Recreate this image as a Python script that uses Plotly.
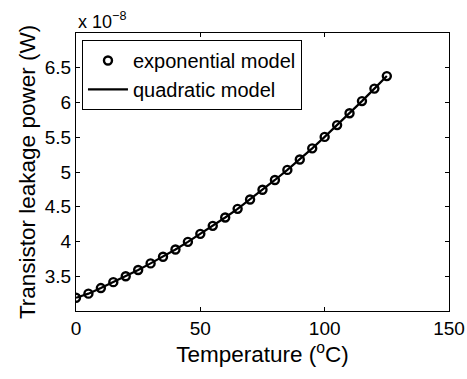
import plotly.graph_objects as go

temperature = [0, 5, 10, 15, 20, 25, 30, 35, 40, 45, 50, 55, 60, 65, 70, 75, 80, 85, 90, 95, 100, 105, 110, 115, 120, 125]
exp_power = [3.19, 3.25, 3.33, 3.415, 3.50, 3.59, 3.685, 3.78, 3.885, 3.995, 4.11, 4.225, 4.345, 4.47,
             4.605, 4.745, 4.885, 5.03, 5.18, 5.34, 5.505, 5.675, 5.845, 6.02, 6.2, 6.38]
quad_power = [3.19, 3.25, 3.33, 3.415, 3.50, 3.59, 3.685, 3.78, 3.885, 3.995, 4.11, 4.225, 4.345, 4.47,
              4.605, 4.745, 4.885, 5.03, 5.18, 5.34, 5.505, 5.675, 5.845, 6.02, 6.2, 6.38]
x_ticks = [0, 50, 100, 150]
y_ticks = [3.5, 4, 4.5, 5, 5.5, 6, 6.5]

FONT = "Liberation Sans, Arial, Helvetica, sans-serif"

fig = go.Figure()
fig.add_trace(go.Scatter(
    x=temperature, y=exp_power, mode="markers", name="exponential model",
    marker=dict(symbol="circle-open", size=8, color="black", line=dict(width=2.4, color="black")),
))
fig.add_trace(go.Scatter(
    x=temperature, y=quad_power, mode="lines", name="quadratic model",
    line=dict(color="black", width=2.2),
))

axis_common = dict(
    showline=True, linecolor="black", linewidth=1, mirror="ticks",
    ticks="inside", ticklen=4, tickcolor="black", tickwidth=1,
    showgrid=False, zeroline=False, automargin=False,
    tickfont=dict(family=FONT, size=19, color="black"),
)

fig.update_xaxes(range=[0, 150], tickvals=x_ticks, ticktext=[str(v) for v in x_ticks],
                 title=dict(text="Temperature (<sup>o</sup>C)", font=dict(family=FONT, size=22.5, color="black"), standoff=5),
                 **axis_common)
fig.update_yaxes(range=[3, 7], tickvals=y_ticks, ticktext=[("%g" % v) for v in y_ticks],
                 title=dict(text="Transistor leakage power (W)", font=dict(family=FONT, size=22.5, color="black"), standoff=2),
                 **axis_common)

fig.add_annotation(text="x 10<sup>−8</sup>", xref="paper", yref="paper", x=0, y=1.0,
                   xanchor="left", yanchor="bottom", showarrow=False, yshift=-1,
                   font=dict(family=FONT, size=18, color="black"))

fig.update_layout(
    width=467, height=379,
    margin=dict(l=76, r=18, t=33, b=68),
    paper_bgcolor="white", plot_bgcolor="white",
    font=dict(family=FONT, color="black"),
    legend=dict(x=0.016, y=0.975, xanchor="left", yanchor="top",
                bgcolor="white", bordercolor="black", borderwidth=1,
                font=dict(family=FONT, size=20, color="black"),
                tracegroupgap=0, itemwidth=40),
    showlegend=True,
)

fig.write_html("out.html", config={"displayModeBar": False},
               post_script="document.body.style.margin='0';document.body.style.overflow='hidden';")
